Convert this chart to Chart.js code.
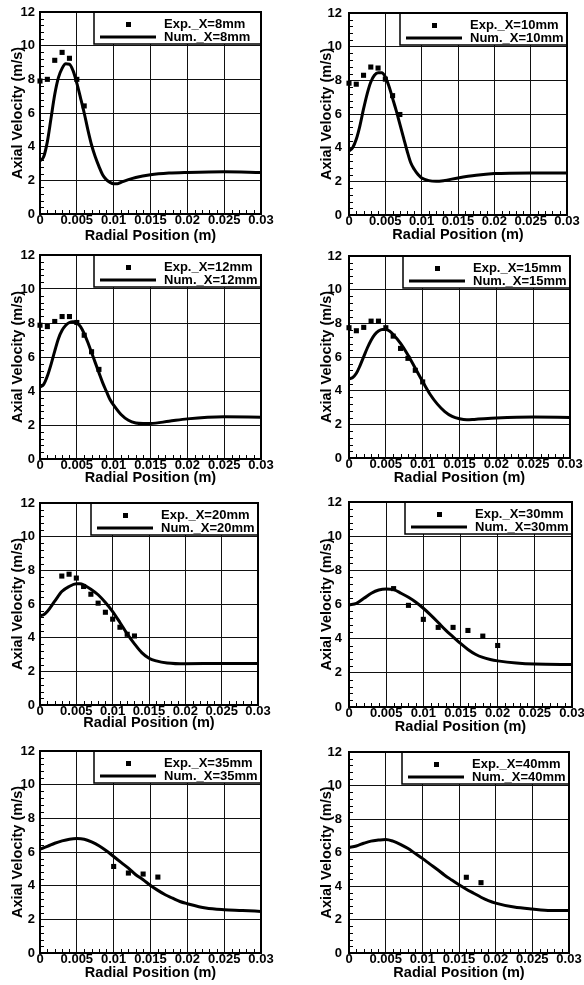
<!DOCTYPE html>
<html>
<head>
<meta charset="utf-8">
<script src="https://cdn.jsdelivr.net/npm/chart.js@4.4.0/dist/chart.umd.min.js"></script>
<style>
  html, body { margin: 0; padding: 0; background: #fff; }
  #wrap { position: relative; width: 584px; height: 985px; overflow: hidden; }
  #wrap canvas { position: absolute; }
</style>
</head>
<body>
<div id="wrap"></div>
<script>
// axial stations (mm)
const stations = ['8', '10', '12', '15', '20', '30', '35', '40'];

// radial position (m) / axial velocity (m/s)
const expR8 = [0, 0.001, 0.002, 0.003, 0.004, 0.005, 0.006];
const expU8 = [7.9, 8.0, 9.13, 9.6, 9.25, 8.0, 6.42];
const numR8 = [0, 0.0005, 0.001, 0.0015, 0.002, 0.0025, 0.003, 0.0035, 0.004, 0.0045, 0.005, 0.0055, 0.006, 0.0065, 0.007, 0.0075, 0.008, 0.0085, 0.009, 0.0095, 0.01, 0.0105, 0.011, 0.012, 0.013, 0.015, 0.0175, 0.02, 0.025, 0.03];
const numU8 = [3.16, 3.4, 4.3, 5.7, 7.1, 8.1, 8.65, 8.92, 8.9, 8.5, 7.77, 6.9, 6.0, 5.0, 4.1, 3.4, 2.83, 2.33, 2.04, 1.88, 1.8, 1.8, 1.88, 2.04, 2.17, 2.33, 2.43, 2.47, 2.51, 2.47];

const expR10 = [0, 0.001, 0.002, 0.003, 0.004, 0.005, 0.006, 0.007];
const expU10 = [7.83, 7.77, 8.3, 8.79, 8.73, 8.07, 7.09, 5.97];
const numR10 = [0, 0.0005, 0.001, 0.0015, 0.002, 0.0025, 0.003, 0.0035, 0.004, 0.0045, 0.005, 0.0055, 0.006, 0.0065, 0.007, 0.0075, 0.008, 0.0085, 0.009, 0.0095, 0.01, 0.011, 0.012, 0.013, 0.015, 0.0175, 0.02, 0.025, 0.03];
const numU10 = [3.8, 4.0, 4.5, 5.3, 6.3, 7.2, 7.9, 8.3, 8.45, 8.45, 8.2, 7.65, 6.93, 6.2, 5.4, 4.6, 3.8, 3.1, 2.7, 2.4, 2.2, 2.04, 2.0, 2.04, 2.2, 2.36, 2.46, 2.5, 2.5];

const expR12 = [0, 0.001, 0.002, 0.003, 0.004, 0.005, 0.006, 0.007, 0.008];
const expU12 = [7.87, 7.79, 8.09, 8.38, 8.38, 8.03, 7.28, 6.31, 5.27];
const numR12 = [0, 0.0005, 0.001, 0.0015, 0.002, 0.0025, 0.003, 0.0035, 0.004, 0.0045, 0.005, 0.0055, 0.006, 0.0065, 0.007, 0.0075, 0.008, 0.0085, 0.009, 0.0095, 0.01, 0.011, 0.012, 0.013, 0.014, 0.015, 0.0175, 0.02, 0.025, 0.03];
const numU12 = [4.23, 4.39, 4.88, 5.57, 6.35, 7.08, 7.57, 7.87, 8.03, 8.07, 8.0, 7.79, 7.38, 6.85, 6.26, 5.67, 5.08, 4.49, 3.99, 3.5, 3.17, 2.62, 2.28, 2.12, 2.09, 2.09, 2.22, 2.36, 2.48, 2.46];

const expR15 = [0, 0.001, 0.002, 0.003, 0.004, 0.005, 0.006, 0.007, 0.008, 0.009, 0.01];
const expU15 = [7.74, 7.56, 7.76, 8.13, 8.13, 7.74, 7.24, 6.51, 5.92, 5.21, 4.52];
const numR15 = [0, 0.0005, 0.001, 0.0015, 0.002, 0.0025, 0.003, 0.0035, 0.004, 0.0045, 0.005, 0.0055, 0.006, 0.007, 0.008, 0.009, 0.01, 0.011, 0.012, 0.013, 0.014, 0.015, 0.016, 0.017, 0.02, 0.025, 0.03];
const numU15 = [4.7, 4.78, 5.03, 5.49, 6.02, 6.55, 7.0, 7.34, 7.54, 7.64, 7.64, 7.54, 7.34, 6.81, 6.12, 5.33, 4.54, 3.79, 3.2, 2.76, 2.47, 2.33, 2.27, 2.29, 2.37, 2.43, 2.41];

const expR20 = [0.003, 0.004, 0.005, 0.006, 0.007, 0.008, 0.009, 0.01, 0.011, 0.012, 0.013];
const expU20 = [7.66, 7.77, 7.54, 7.04, 6.58, 6.05, 5.51, 5.1, 4.62, 4.2, 4.1];
const numR20 = [0, 0.0005, 0.001, 0.002, 0.003, 0.004, 0.005, 0.0055, 0.006, 0.007, 0.008, 0.009, 0.01, 0.011, 0.012, 0.013, 0.014, 0.015, 0.016, 0.0175, 0.02, 0.025, 0.03];
const numU20 = [5.3, 5.36, 5.55, 6.15, 6.74, 7.04, 7.2, 7.2, 7.14, 6.88, 6.55, 6.09, 5.55, 4.9, 4.22, 3.63, 3.11, 2.78, 2.62, 2.5, 2.45, 2.47, 2.47];

const expR30 = [0.006, 0.008, 0.01, 0.012, 0.014, 0.016, 0.018, 0.02];
const expU30 = [6.93, 5.95, 5.13, 4.66, 4.66, 4.48, 4.15, 3.6];
const numR30 = [0, 0.001, 0.002, 0.003, 0.004, 0.005, 0.006, 0.007, 0.008, 0.009, 0.01, 0.011, 0.012, 0.013, 0.014, 0.015, 0.016, 0.017, 0.018, 0.019, 0.02, 0.0225, 0.025, 0.03];
const numU30 = [5.97, 6.07, 6.36, 6.66, 6.85, 6.91, 6.87, 6.66, 6.42, 6.13, 5.78, 5.38, 4.95, 4.5, 4.11, 3.72, 3.37, 3.09, 2.9, 2.78, 2.7, 2.57, 2.51, 2.49];

const expR35 = [0.01, 0.012, 0.014, 0.016];
const expU35 = [5.14, 4.75, 4.69, 4.51];
const numR35 = [0, 0.001, 0.002, 0.003, 0.004, 0.005, 0.006, 0.007, 0.008, 0.009, 0.01, 0.011, 0.012, 0.013, 0.014, 0.015, 0.016, 0.017, 0.018, 0.019, 0.02, 0.0225, 0.025, 0.0275, 0.03];
const numU35 = [6.17, 6.33, 6.52, 6.66, 6.76, 6.8, 6.76, 6.6, 6.37, 6.07, 5.73, 5.38, 5.04, 4.65, 4.35, 4.01, 3.72, 3.46, 3.26, 3.06, 2.93, 2.67, 2.57, 2.53, 2.47];

const expR40 = [0.016, 0.018];
const expU40 = [4.52, 4.2];
const numR40 = [0, 0.001, 0.002, 0.003, 0.004, 0.005, 0.006, 0.007, 0.008, 0.009, 0.01, 0.011, 0.012, 0.013, 0.014, 0.015, 0.016, 0.017, 0.018, 0.019, 0.02, 0.0225, 0.025, 0.0275, 0.03];
const numU40 = [6.31, 6.39, 6.55, 6.68, 6.74, 6.78, 6.68, 6.49, 6.25, 5.95, 5.65, 5.32, 5.0, 4.66, 4.36, 4.07, 3.81, 3.57, 3.33, 3.13, 2.98, 2.74, 2.62, 2.54, 2.54];

const expR = [expR8, expR10, expR12, expR15, expR20, expR30, expR35, expR40];
const expU = [expU8, expU10, expU12, expU15, expU20, expU30, expU35, expU40];
const numR = [numR8, numR10, numR12, numR15, numR20, numR30, numR35, numR40];
const numU = [numU8, numU10, numU12, numU15, numU20, numU30, numU35, numU40];

// page placement of each panel: canvas box + plot box
const frames = [
  { cx: 0,   cy: 0,   w: 292, h: 245, L: 40,  R: 261, T: 12,  B: 214 },
  { cx: 292, cy: 0,   w: 292, h: 244, L: 349, R: 567, T: 13,  B: 215 },
  { cx: 0,   cy: 245, w: 292, h: 242, L: 40,  R: 261, T: 255, B: 459 },
  { cx: 292, cy: 245, w: 292, h: 242, L: 349, R: 570, T: 256, B: 458 },
  { cx: 0,   cy: 490, w: 292, h: 242, L: 40,  R: 258, T: 503, B: 705 },
  { cx: 292, cy: 490, w: 292, h: 246, L: 349, R: 572, T: 502, B: 707 },
  { cx: 0,   cy: 740, w: 292, h: 242, L: 40,  R: 261, T: 751, B: 953 },
  { cx: 292, cy: 740, w: 292, h: 242, L: 349, R: 569, T: 752, B: 953 }
];

const FONT = '"Liberation Sans", Arial, sans-serif';

const pts = (xs, ys) => xs.map((x, i) => ({ x: x, y: ys[i] }));

// minor ticks, legend box and frame, tecplot style
const decor = {
  id: 'decor',
  afterDraw(chart) {
    const ctx = chart.ctx;
    const a = chart.chartArea;
    const xs = chart.scales.x, ys = chart.scales.y;
    ctx.save();
    ctx.strokeStyle = '#000';
    ctx.lineWidth = 1;
    ctx.beginPath();
    for (let k = 1; k < 30; k++) {
      if (k % 5 === 0) continue;
      const px = Math.round(xs.getPixelForValue(k / 1000)) + 0.5;
      ctx.moveTo(px, a.bottom);
      ctx.lineTo(px, a.bottom - 4);
      const py = Math.round(ys.getPixelForValue(k * 0.4)) + 0.5;
      ctx.moveTo(a.left, py);
      ctx.lineTo(a.left + 4, py);
    }
    ctx.stroke();

    // legend
    const ds = chart.data.datasets;
    const lw = 167, lh = 32;
    const lx = a.right - lw, ly = a.top;
    ctx.fillStyle = '#fff';
    ctx.fillRect(lx, ly, lw, lh);
    ctx.strokeStyle = '#000';
    ctx.lineWidth = 1.5;
    ctx.strokeRect(lx, ly, lw, lh);
    ctx.fillStyle = '#000';
    ctx.fillRect(lx + 32, ly + 10, 5, 5);
    ctx.lineWidth = 3;
    ctx.beginPath();
    ctx.moveTo(lx + 6, ly + 25);
    ctx.lineTo(lx + 62, ly + 25);
    ctx.stroke();
    ctx.font = 'bold 13px ' + FONT;
    ctx.textAlign = 'left';
    ctx.textBaseline = 'middle';
    ctx.fillText(ds[0].label, lx + 70, ly + 12);
    ctx.fillText(ds[1].label, lx + 70, ly + 25);

    ctx.lineWidth = 2;
    ctx.strokeRect(a.left, a.top, a.right - a.left, a.bottom - a.top);
    ctx.restore();
  }
};

const wrap = document.getElementById('wrap');

stations.forEach((st, i) => {
  const f = frames[i];
  const cv = document.createElement('canvas');
  cv.width = f.w;
  cv.height = f.h;
  cv.style.left = f.cx + 'px';
  cv.style.top = f.cy + 'px';
  cv.style.width = f.w + 'px';
  cv.style.height = f.h + 'px';
  wrap.appendChild(cv);

  const padLeft = f.cx === 0 ? 9 : 26;
  const yW = f.L - f.cx - padLeft;
  const xH = f.cy + f.h - f.B;

  new Chart(cv, {
    type: 'scatter',
    data: {
      datasets: [
        {
          label: 'Exp._X=' + st + 'mm',
          data: pts(expR[i], expU[i]),
          pointStyle: 'rect',
          pointRadius: 3.6,
          pointBackgroundColor: '#000',
          pointBorderWidth: 0,
          clip: false,
          order: 0
        },
        {
          label: 'Num._X=' + st + 'mm',
          data: pts(numR[i], numU[i]),
          showLine: true,
          pointRadius: 0,
          borderColor: '#000',
          borderWidth: 3,
          cubicInterpolationMode: 'monotone',
          order: 1
        }
      ]
    },
    options: {
      responsive: false,
      animation: false,
      events: [],
      layout: {
        padding: { left: padLeft, top: f.T - f.cy, right: f.cx + f.w - f.R, bottom: 0 }
      },
      plugins: {
        legend: { display: false },
        tooltip: { enabled: false }
      },
      scales: {
        x: {
          type: 'linear',
          min: 0,
          max: 0.03,
          ticks: {
            stepSize: 0.005,
            autoSkip: false,
            maxRotation: 0,
            padding: 0,
            color: '#000',
            font: { family: FONT, size: 13, weight: 'bold', lineHeight: 1 },
            callback: v => String(+v.toFixed(3))
          },
          grid: { color: '#111', lineWidth: 1, drawTicks: false },
          border: { display: false },
          title: {
            display: true,
            text: 'Radial Position (m)',
            color: '#000',
            padding: 0,
            font: { family: FONT, size: 14.5, weight: 'bold' }
          },
          afterFit: s => { s.height = xH; s.paddingLeft = 0; s.paddingRight = 0; }
        },
        y: {
          min: 0,
          max: 12,
          ticks: {
            stepSize: 2,
            padding: f.cx === 0 ? 5 : 7,
            color: '#000',
            font: { family: FONT, size: 13, weight: 'bold' }
          },
          grid: { color: '#111', lineWidth: 1, drawTicks: false },
          border: { display: false },
          title: {
            display: true,
            text: 'Axial Velocity (m/s)',
            color: '#000',
            padding: 0,
            font: { family: FONT, size: 14.5, weight: 'bold' }
          },
          afterFit: s => { s.width = yW; s.paddingTop = 0; s.paddingBottom = 0; }
        }
      }
    },
    plugins: [decor]
  });
});
</script>
</body>
</html>
